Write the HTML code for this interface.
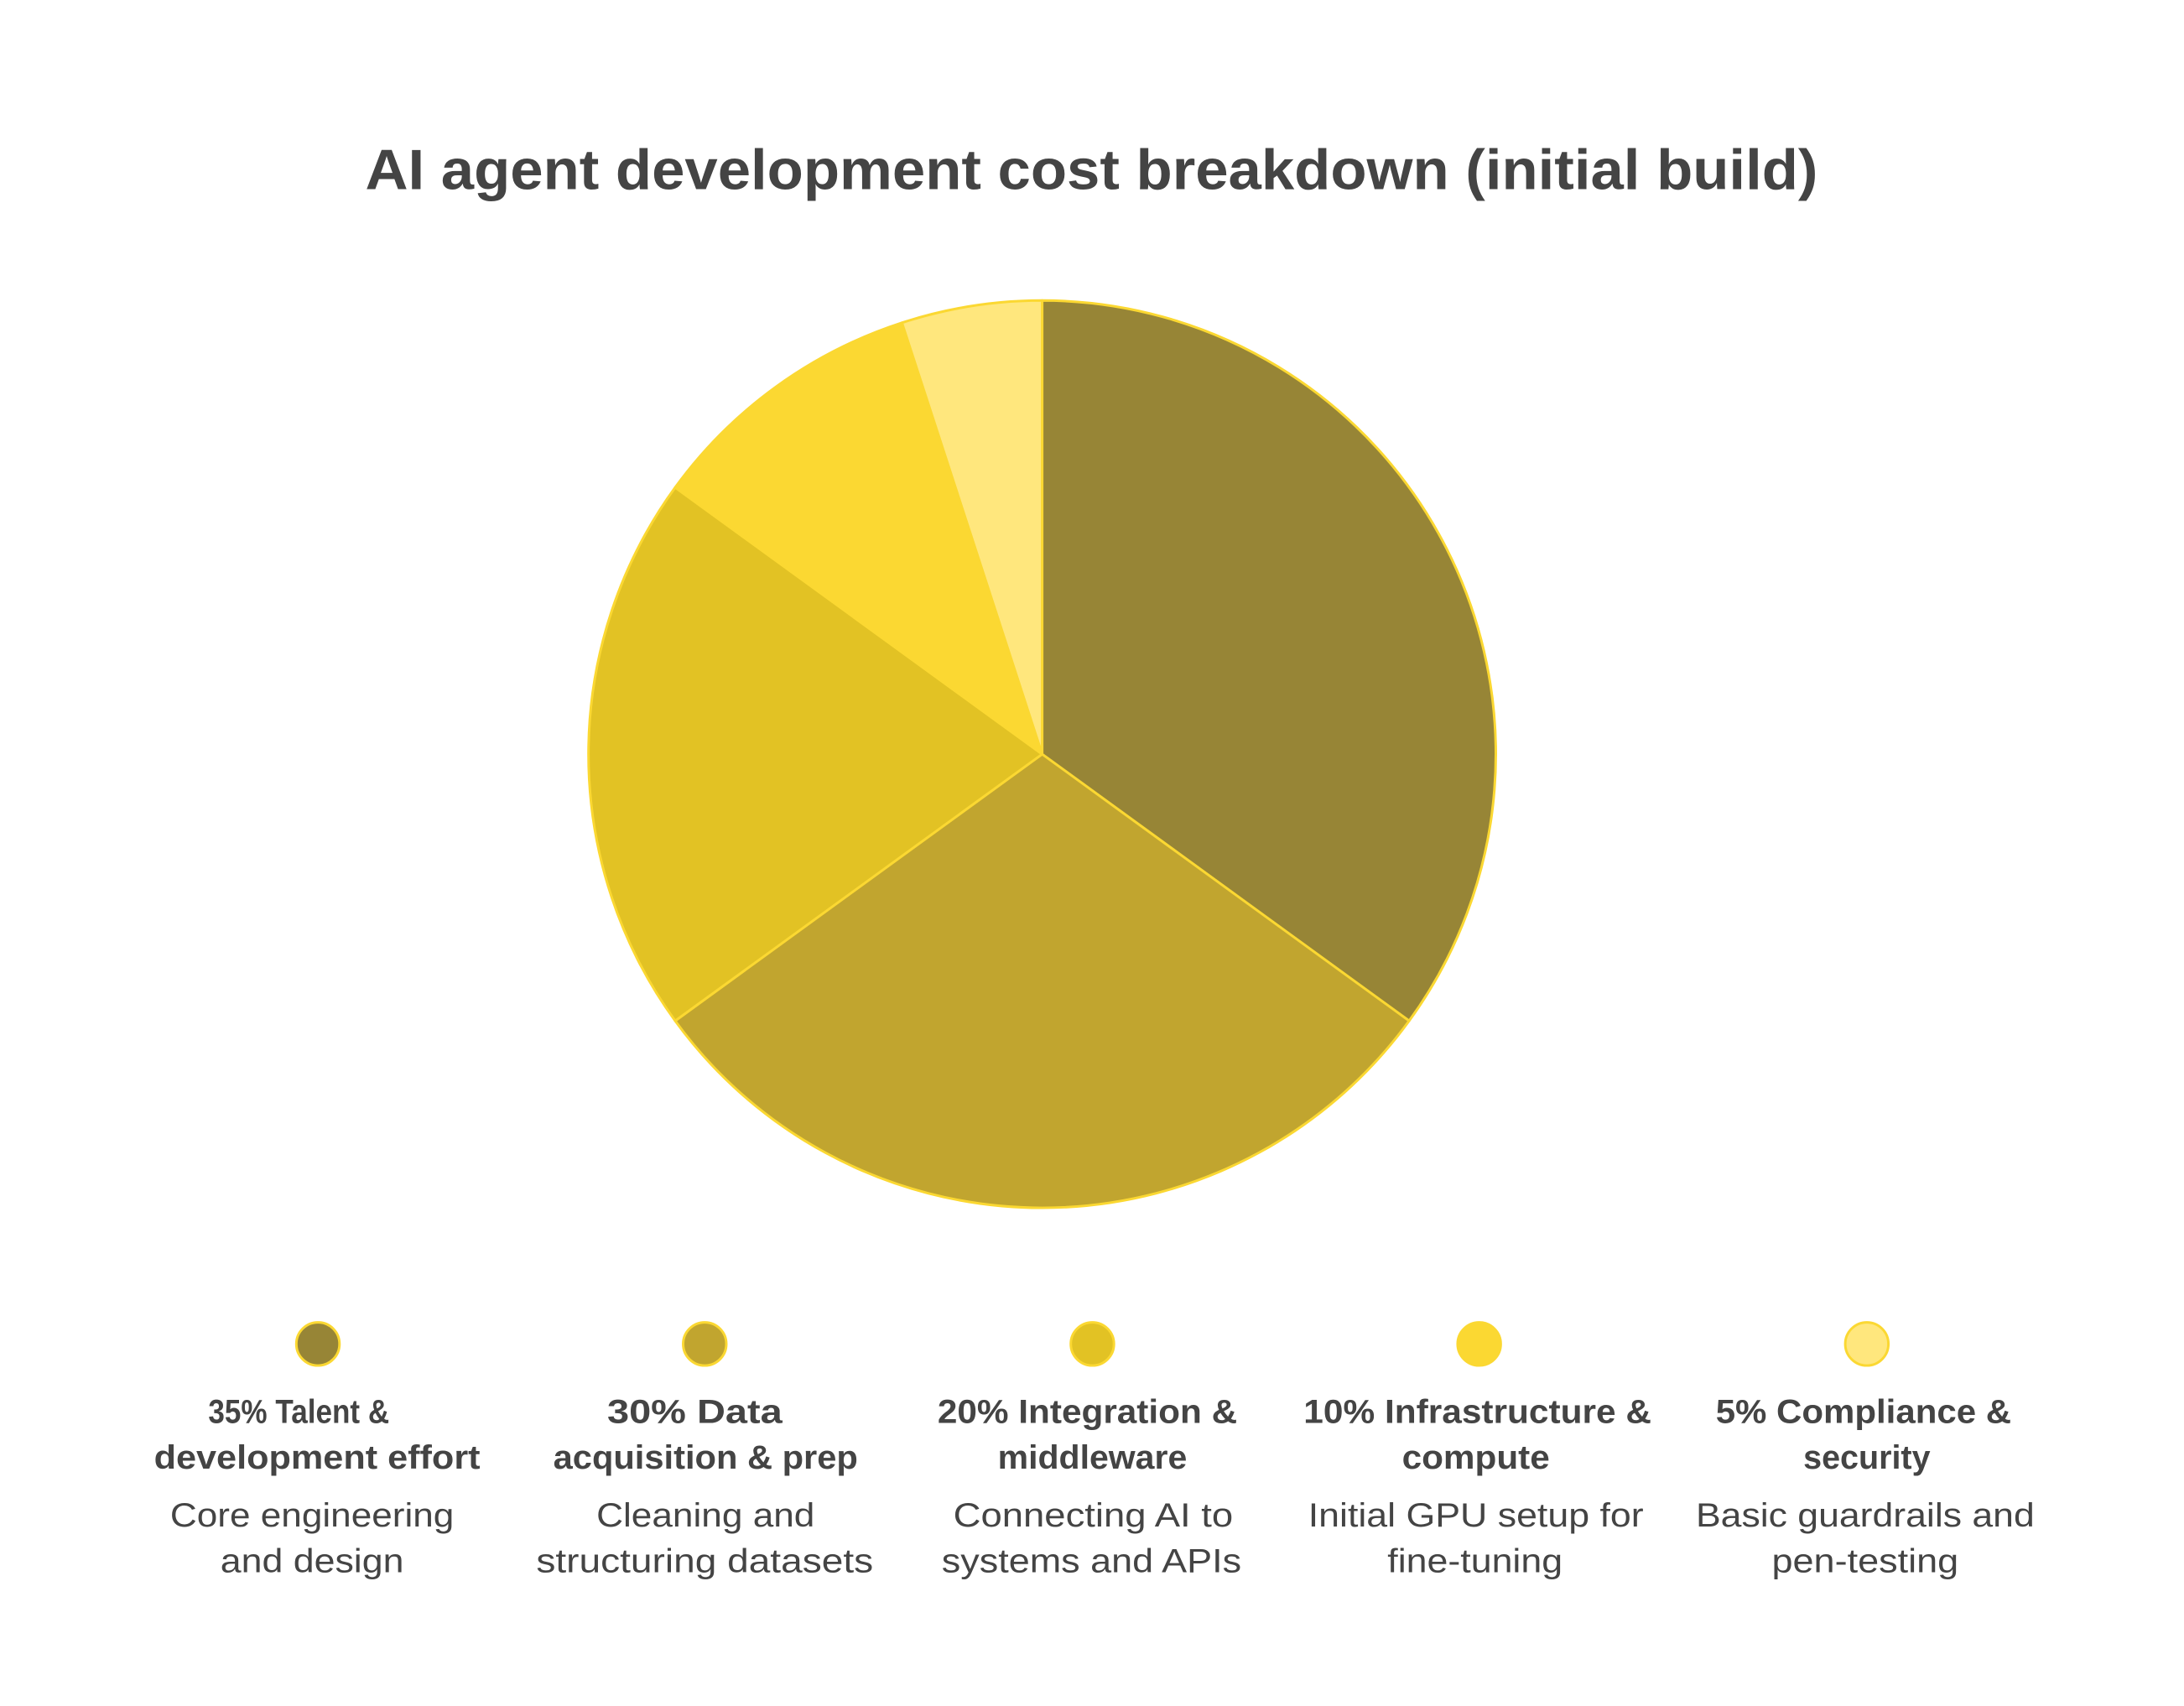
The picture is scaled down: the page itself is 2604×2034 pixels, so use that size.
<!DOCTYPE html>
<html><head><meta charset="utf-8"><style>
html,body{margin:0;padding:0;background:#fff;}
svg{display:block}
text{font-family:"Liberation Sans",Arial,sans-serif;fill:#444;text-anchor:middle}
.b{font-weight:bold;font-size:40px}
.r{font-size:40px}
</style></head><body>
<svg width="2604" height="2034" viewBox="0 0 2604 2034" xmlns="http://www.w3.org/2000/svg">
<rect width="2604" height="2034" fill="#fff"/>
<g transform="scale(0.9897)">
<text x="1315" y="228" font-size="68" font-weight="bold" textLength="1750" lengthAdjust="spacingAndGlyphs">AI agent development cost breakdown (initial build)</text>
<g stroke="#FBD832" stroke-width="3" stroke-linejoin="round">
<path d="M1255.5 908.5 L1255.5 362 A546.5 546.5 0 0 1 1697.6 1229.8 Z" fill="#978536"/>
<path d="M1255.5 908.5 L1697.6 1229.8 A546.5 546.5 0 0 1 813.4 1229.8 Z" fill="#C1A52F"/>
<path d="M1255.5 908.5 L813.4 1229.8 A546.5 546.5 0 0 1 813.4 587.2 Z" fill="#E2C224"/>
<path d="M1255.5 908.5 L813.4 587.2 A546.5 546.5 0 0 1 1086.6 388.8 Z" fill="#FBD832"/>
<path d="M1255.5 908.5 L1086.6 388.8 A546.5 546.5 0 0 1 1255.5 362 Z" fill="#FFE77D"/>
</g>
<g stroke="#FBD832" stroke-width="3">
<circle cx="383" cy="1619" r="26" fill="#978536"/>
<circle cx="849" cy="1619" r="26" fill="#C1A52F"/>
<circle cx="1316" cy="1619" r="26" fill="#E2C224"/>
<circle cx="1782" cy="1619" r="26" fill="#FBD832"/>
<circle cx="2249" cy="1619" r="26" fill="#FFE77D"/>
</g>
<text class="b" x="360" y="1714" textLength="218" lengthAdjust="spacingAndGlyphs">35% Talent &amp;</text>
<text class="b" x="382" y="1769" textLength="393" lengthAdjust="spacingAndGlyphs">development effort</text>
<text class="r" x="376" y="1839" textLength="342" lengthAdjust="spacingAndGlyphs">Core engineering</text>
<text class="r" x="376" y="1894" textLength="221" lengthAdjust="spacingAndGlyphs">and design</text>

<text class="b" x="837" y="1714" textLength="211" lengthAdjust="spacingAndGlyphs">30% Data</text>
<text class="b" x="850" y="1769" textLength="367" lengthAdjust="spacingAndGlyphs">acquisition &amp; prep</text>
<text class="r" x="850" y="1839" textLength="263" lengthAdjust="spacingAndGlyphs">Cleaning and</text>
<text class="r" x="849" y="1894" textLength="406" lengthAdjust="spacingAndGlyphs">structuring datasets</text>

<text class="b" x="1310" y="1714" textLength="361" lengthAdjust="spacingAndGlyphs">20% Integration &amp;</text>
<text class="b" x="1316" y="1769" textLength="228" lengthAdjust="spacingAndGlyphs">middleware</text>
<text class="r" x="1317" y="1839" textLength="337" lengthAdjust="spacingAndGlyphs">Connecting AI to</text>
<text class="r" x="1315" y="1894" textLength="361" lengthAdjust="spacingAndGlyphs">systems and APIs</text>

<text class="b" x="1780" y="1714" textLength="419" lengthAdjust="spacingAndGlyphs">10% Infrastructure &amp;</text>
<text class="b" x="1778" y="1769" textLength="178" lengthAdjust="spacingAndGlyphs">compute</text>
<text class="r" x="1778" y="1839" textLength="404" lengthAdjust="spacingAndGlyphs">Initial GPU setup for</text>
<text class="r" x="1777" y="1894" textLength="211" lengthAdjust="spacingAndGlyphs">fine-tuning</text>

<text class="b" x="2245" y="1714" textLength="356" lengthAdjust="spacingAndGlyphs">5% Compliance &amp;</text>
<text class="b" x="2249" y="1769" textLength="153" lengthAdjust="spacingAndGlyphs">security</text>
<text class="r" x="2247" y="1839" textLength="408" lengthAdjust="spacingAndGlyphs">Basic guardrails and</text>
<text class="r" x="2247" y="1894" textLength="225" lengthAdjust="spacingAndGlyphs">pen-testing</text>
</g>
</svg>
</body></html>
